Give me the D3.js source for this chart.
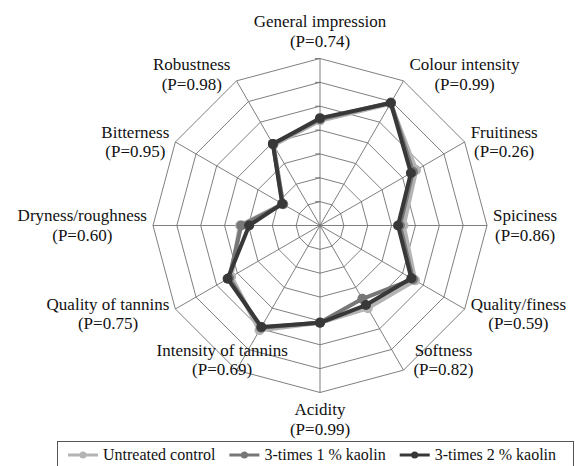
<!DOCTYPE html>
<html>
<head>
<meta charset="utf-8">
<script src="https://cdn.jsdelivr.net/npm/d3@7"></script>
<style>
    body { margin: 0; background: #fff; }
    #visual { width: 575px; height: 466px; }
</style>
</head>
<body>
<div id="visual"></div>
<script>
var categories = ['General impression', 'Colour intensity', 'Fruitiness', 'Spiciness', 'Quality/finess', 'Softness',
    'Acidity', 'Intensity of tannins', 'Quality of tannins', 'Dryness/roughness', 'Bitterness', 'Robustness'];
var pValues = ['0.74', '0.99', '0.26', '0.86', '0.59', '0.82', '0.99', '0.69', '0.75', '0.60', '0.95', '0.98'];

var untreated = [4.40, 5.90, 4.65, 3.50, 4.60, 4.00, 4.07, 5.07, 4.30, 3.35, 1.80, 3.90];
var kaolin1 = [4.45, 5.95, 4.50, 3.35, 4.50, 3.55, 4.07, 4.95, 4.40, 3.30, 1.78, 3.95];
var kaolin2 = [4.50, 5.93, 4.40, 3.27, 4.42, 3.85, 4.08, 4.91, 4.47, 2.97, 1.83, 3.95];

var seriesNames = ['Untreated control', '3-times 1 % kaolin', '3-times 2 % kaolin'];
var ringTicks = [1, 2, 3, 4, 5, 6, 7];

var width = 575, height = 466;
var cx = 320, cy = 225.5, radius = 167;

var svg = d3.select('#visual')
    .append('svg')
    .attr('width', width)
    .attr('height', height);

function addText(parent, size) {
    return parent.append('text')
        .style('font-family', "'Liberation Serif'")
        .style('font-size', size + 'px')
        .style('fill', '#111');
}

var r_scale = d3.scaleLinear()
    .domain([0, 7])
    .range([0, radius]);

var angle_scale = d3.scalePoint()
    .domain(d3.range(categories.length))
    .range([0, 2 * Math.PI * (categories.length - 1) / categories.length]);

var colours = d3.scaleOrdinal()
    .domain(seriesNames)
    .range(['#b4b4b4', '#777777', '#383838']);

function point(i, v) {
    var a = angle_scale(i);
    return [cx + r_scale(v) * Math.sin(a), cy - r_scale(v) * Math.cos(a)];
}

var grid = svg.append('g').attr('class', 'grid');

// rings
ringTicks.forEach(function (t) {
    var pts = categories.map(function (c, i) { return point(i, t); });
    grid.append('path')
        .attr('d', d3.line()(pts) + 'Z')
        .attr('fill', 'none')
        .attr('stroke', '#707070')
        .attr('stroke-width', 0.9);
});

// spokes
categories.forEach(function (c, i) {
    var p = point(i, 7);
    grid.append('line')
        .attr('x1', cx).attr('y1', cy)
        .attr('x2', p[0]).attr('y2', p[1])
        .attr('stroke', '#707070')
        .attr('stroke-width', 0.9);
});

// small tick marks on the value axis
ringTicks.forEach(function (t) {
    var p = point(0, t);
    grid.append('line')
        .attr('x1', p[0] - 5).attr('y1', p[1])
        .attr('x2', p[0]).attr('y2', p[1])
        .attr('stroke', '#707070')
        .attr('stroke-width', 0.9);
});

// series
var series = [untreated, kaolin1, kaolin2];
var lineWidths = [4.5, 4, 4];
series.forEach(function (vals, s) {
    var pts = vals.map(function (v, i) { return point(i, v); });
    var g = svg.append('g').attr('class', 'series');
    g.append('path')
        .attr('d', d3.line()(pts) + 'Z')
        .attr('fill', 'none')
        .attr('stroke', colours(seriesNames[s]))
        .attr('stroke-width', lineWidths[s])
        .attr('stroke-linejoin', 'round');
    g.selectAll('circle')
        .data(pts)
        .enter().append('circle')
        .attr('cx', function (d) { return d[0]; })
        .attr('cy', function (d) { return d[1]; })
        .attr('r', 5)
        .attr('fill', colours(seriesNames[s]));
});

// category labels
var labels = svg.append('g').attr('class', 'labels');
categories.forEach(function (c, i) {
    var a = angle_scale(i);
    var sin = Math.sin(a), cos = Math.cos(a);
    var v = point(i, 7);
    var lab = labels.append('g');
    var t1 = addText(lab, 17).attr('text-anchor', 'middle').text(c);
    var t2 = addText(lab, 17).attr('text-anchor', 'middle').text('(P=' + pValues[i] + ')');
    var w = Math.max(t1.node().getComputedTextLength(), t2.node().getComputedTextLength());
    var bx, by;
    if (Math.abs(sin) < 0.01) {
        bx = v[0];
        by = cos > 0 ? v[1] - 27 : v[1] + 27;
    } else if (cos < -0.6) {
        // lower diagonal labels sit beside and a little above the vertex
        bx = sin > 0 ? v[0] + 70 - w / 2 : v[0] - 80 + w / 2;
        by = v[1] - 10;
    } else {
        bx = v[0] + (sin > 0 ? 6 : -6) + (sin > 0 ? 1 : -1) * w / 2;
        by = v[1] + (cos > 0.6 ? -6 : (cos < -0.4 ? 5 : 0));
    }
    t1.attr('x', bx).attr('y', by - 4.5);
    t2.attr('x', bx).attr('y', by + 15);
});

// legend
var legend = svg.append('g').attr('class', 'legend');
legend.append('rect')
    .attr('x', 57.5).attr('y', 441.5)
    .attr('width', 516).attr('height', 30)
    .attr('fill', '#fff')
    .attr('stroke', '#555')
    .attr('stroke-width', 1);

var lx = 68;
seriesNames.forEach(function (name, s) {
    var item = legend.append('g');
    item.append('line')
        .attr('x1', lx).attr('x2', lx + 30)
        .attr('y1', 455).attr('y2', 455)
        .attr('stroke', colours(name))
        .attr('stroke-width', 3);
    item.append('circle')
        .attr('cx', lx + 15).attr('cy', 455)
        .attr('r', 3.5)
        .attr('fill', colours(name));
    var txt = addText(item, 16)
        .attr('x', lx + 35).attr('y', 460)
        .text(name);
    lx += 35 + txt.node().getComputedTextLength() + 14;
});
</script>
</body>
</html>
